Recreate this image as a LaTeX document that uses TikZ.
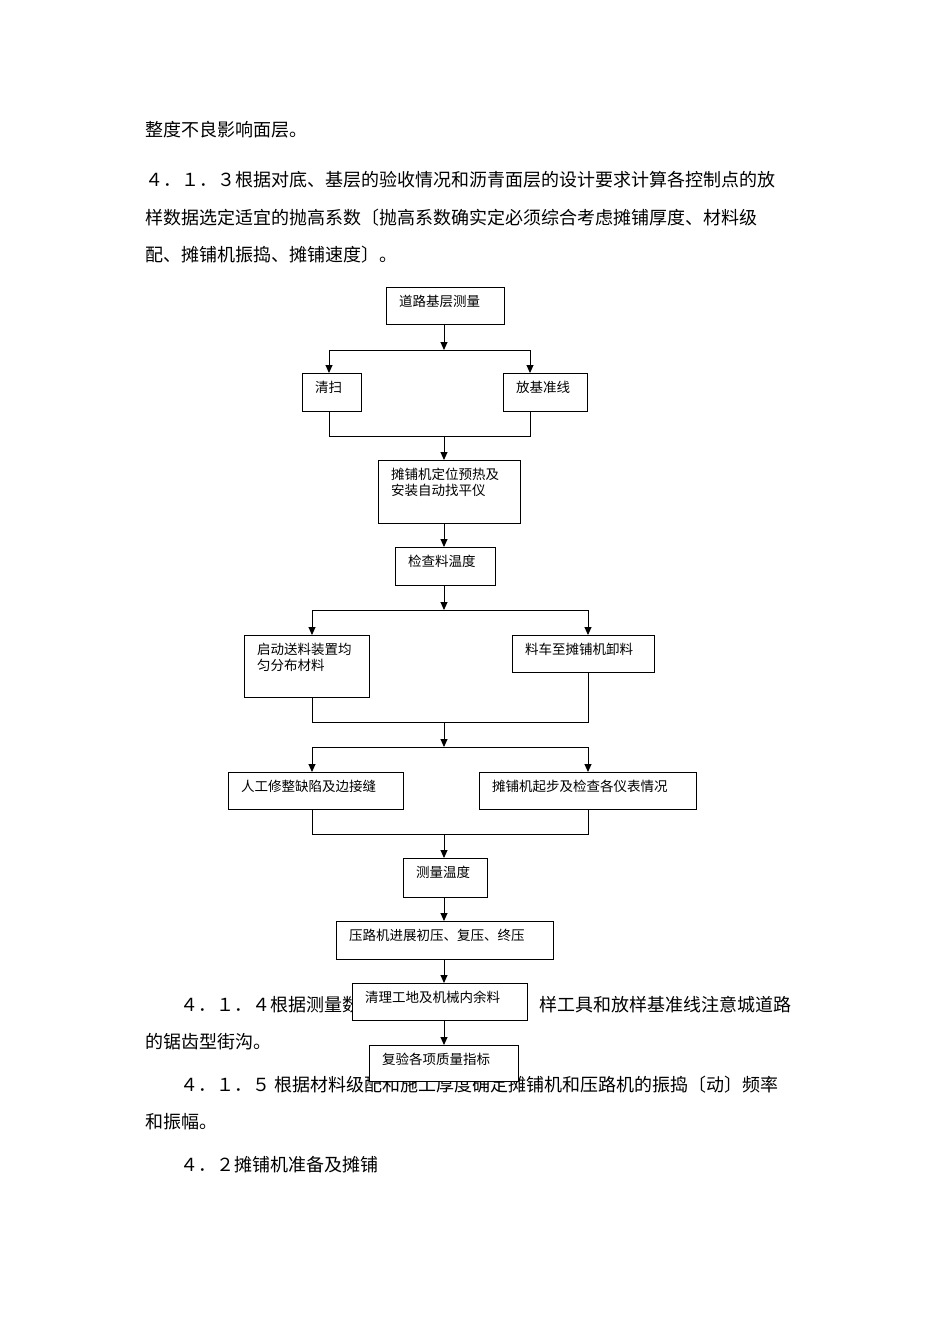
\documentclass[tikz,border=0pt]{standalone}
\usepackage{fontspec}
\setmainfont{Noto Sans CJK SC}
\usetikzlibrary{arrows.meta}
\begin{document}
\begin{tikzpicture}[x=1pt,y=-1pt,
  bodytxt/.style={anchor=west,inner sep=0pt,font=\fontsize{18}{20}\selectfont},
  boxtxt/.style={anchor=north west,inner sep=0pt,font=\fontsize{13.5}{16}\selectfont,align=left},
  arr/.style={-{Triangle[length=8pt,width=7pt]},line width=0.9pt},
  ln/.style={line width=0.9pt}]
\useasboundingbox[fill=white] (0,0) rectangle (950,1344);
% body text
\node[bodytxt] (t1) at (145,130) {整度不良影响面层。};
\node[bodytxt] (t2) at (145,180) {４．１．３根据对底、基层的验收情况和沥青面层的设计要求计算各控制点的放};
\node[bodytxt] (t3) at (145,218) {样数据选定适宜的抛高系数〔抛高系数确实定必须综合考虑摊铺厚度、材料级};
\node[bodytxt] (t4) at (145,255) {配、摊铺机振捣、摊铺速度〕。};
\node[bodytxt] (t5) at (180,1005) {４．１．４根据测量数据设置放};
\node[bodytxt,anchor=east] (t5b) at (792,1005) {样工具和放样基准线注意城道路};
\node[bodytxt] (t6) at (145,1042) {的锯齿型街沟。};
\node[bodytxt] (t7) at (180,1085) {４．１．５ 根据材料级配和施工厚度确定摊铺机和压路机的振捣〔动〕频率};
\node[bodytxt] (t8) at (145,1122) {和振幅。};
\node[bodytxt] (t9) at (180,1165) {４．２摊铺机准备及摊铺};
% boxes
\newcommand{\bx}[6]{\draw[ln,fill=white] (#2,#3) rectangle (#4,#5); \node[boxtxt] (#1) at (#2+13,#3+8) {#6};}
\bx{a}{386}{287}{504}{324}{道路基层测量}
\bx{b1}{302}{373}{361}{411}{清扫}
\bx{b2}{503}{373}{587}{411}{放基准线}
\bx{c}{378}{460}{520}{523}{摊铺机定位预热及\\安装自动找平仪}
\bx{d}{395}{547}{495}{585}{检查料温度}
\bx{e1}{244}{635}{369}{697}{启动送料装置均\\匀分布材料}
\bx{e2}{512}{635}{654}{672}{料车至摊铺机卸料}
\bx{f1}{228}{772}{403}{809}{人工修整缺陷及边接缝}
\bx{f2}{479}{772}{696}{809}{摊铺机起步及检查各仪表情况}
\bx{g}{403}{858}{487}{897}{测量温度}
\bx{h}{336}{921}{553}{959}{压路机进展初压、复压、终压}
\bx{i}{352}{983}{527}{1020}{清理工地及机械内余料}
\bx{j}{369}{1045}{518}{1081}{复验各项质量指标}
% connectors
\coordinate (s1) at (444,350);
\draw[arr] (444,324) -- (s1);
\draw[arr] (s1) -- (329,350) -- (329,373);
\draw[arr] (s1) -- (530,350) -- (530,373);
\draw[ln] (329,411) -- (329,436) -- (530,436) -- (530,411);
\draw[arr] (444,436) -- (444,460);
\draw[arr] (444,523) -- (444,547);
\draw[arr] (444,585) -- (444,610);
\draw[arr] (444,610) -- (312,610) -- (312,635);
\draw[arr] (444,610) -- (588,610) -- (588,635);
\draw[ln] (312,697) -- (312,722) -- (588,722) -- (588,672);
\draw[arr] (444,722) -- (444,747);
\draw[arr] (444,747) -- (312,747) -- (312,772);
\draw[arr] (444,747) -- (588,747) -- (588,772);
\draw[ln] (312,809) -- (312,834) -- (588,834) -- (588,809);
\draw[arr] (444,834) -- (444,858);
\draw[arr] (444,897) -- (444,921);
\draw[arr] (444,959) -- (444,983);
\draw[arr] (444,1020) -- (444,1045);
\end{tikzpicture}
\end{document}
